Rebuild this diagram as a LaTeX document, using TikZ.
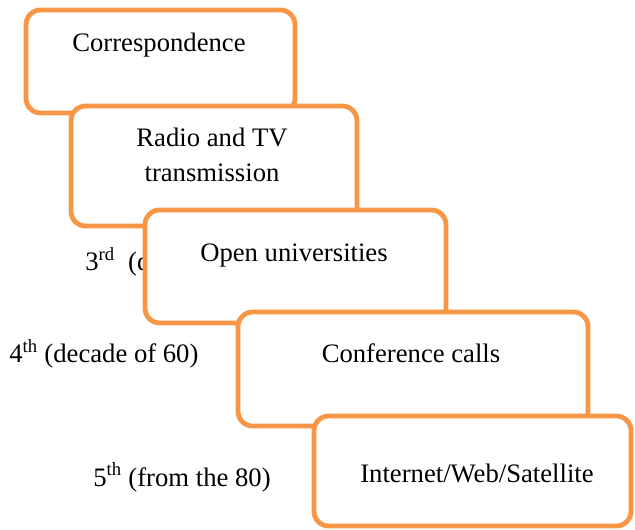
\documentclass[tikz,border=0pt]{standalone}
\usepackage{fontspec}
\setmainfont{Liberation Serif}
\definecolor{boxorange}{HTML}{F79646}
\begin{document}
\begin{tikzpicture}[x=0.75pt,y=-0.75pt,
  box/.style={draw=boxorange, line width=3.6pt, fill=white, rounded corners=11pt, inner sep=0pt},
  txt/.style={inner sep=0pt, font=\fontsize{20}{26}\selectfont, anchor=base},
  lbl/.style={inner sep=0pt, font=\fontsize{20}{26}\selectfont, anchor=base west}]
\useasboundingbox (0,0) rectangle (635,530);
% Box 1
\node[box, minimum width=201.75pt, minimum height=77.25pt] (b1) at (160.5,61.5) {};
\node[txt] (t1) at (159,52) {Correspondence};
% Box 2
\node[box, minimum width=214.5pt, minimum height=90pt] (b2) at (214,166) {};
\node[txt] (t2a) at (212,147) {Radio and TV};
\node[txt] (t2b) at (212,182) {transmission};
% label 3
\node[lbl] (l3) at (85,271) {3\textsuperscript{rd}\ \ (d};
% Box 3
\node[box, minimum width=225.75pt, minimum height=84.75pt] (b3) at (295.5,266.5) {};
\node[txt] (t3) at (294,262) {Open universities};
% label 4
\node[lbl] (l4) at (9,363) {4\textsuperscript{th} (decade of 60)};
% Box 4
\node[box, minimum width=262.5pt, minimum height=85.5pt] (b4) at (413,369) {};
\node[txt] (t4) at (411,363) {Conference calls};
% label 5
\node[lbl] (l5) at (93,486) {5\textsuperscript{th} (from the 80)};
% Box 5
\node[box, minimum width=237.75pt, minimum height=82.5pt] (b5) at (472.5,471) {};
\node[txt] (t5) at (477,482) {Internet/Web/Satellite};
\end{tikzpicture}
\end{document}
